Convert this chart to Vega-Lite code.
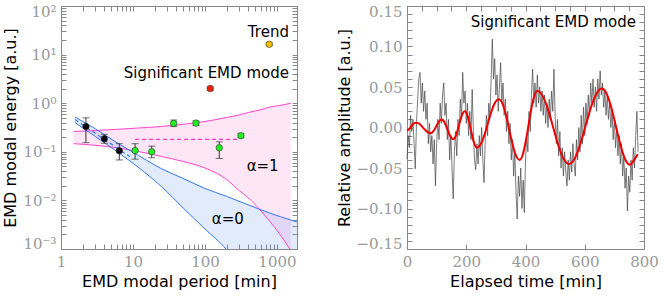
{
"$schema": "https://vega.github.io/schema/vega-lite/v6.json",
"padding": {"left": 2, "top": 3, "right": 0, "bottom": 2},
"spacing": 110,
"bounds": "flush",
"config": {
  "view": {"stroke": "#888888", "strokeWidth": 1},
  "axis": {"domain": false, "grid": false, "tickColor": "#888888", "tickSize": -5, "labelPadding": 10, "labelFont": "DejaVu Serif", "labelColor": "#999999", "labelFontSize": 15, "labelOverlap": false, "titleFont": "DejaVu Sans", "titleFontSize": 16, "titleFontWeight": "normal", "titleColor": "#000000"}
},
"datasets": {
  "pink": [
    {"P": 1.5, "up": 0.262, "lo": 0.147},
    {"P": 3, "up": 0.274, "lo": 0.136},
    {"P": 6, "up": 0.290, "lo": 0.121},
    {"P": 12, "up": 0.309, "lo": 0.101},
    {"P": 25, "up": 0.332, "lo": 0.080},
    {"P": 50, "up": 0.368, "lo": 0.063},
    {"P": 100, "up": 0.420, "lo": 0.0464},
    {"P": 200, "up": 0.508, "lo": 0.0269},
    {"P": 300, "up": 0.575, "lo": 0.0159},
    {"P": 400, "up": 0.644, "lo": 0.0113},
    {"P": 600, "up": 0.735, "lo": 0.00605},
    {"P": 800, "up": 0.836, "lo": 0.00368},
    {"P": 1100, "up": 0.90, "lo": 0.0020},
    {"P": 1560, "up": 0.995, "lo": 0.00093}
  ],
  "blue": [
    {"P": 1.56, "up": 0.52, "lo": 0.40},
    {"P": 3, "up": 0.297, "lo": 0.206},
    {"P": 6, "up": 0.153, "lo": 0.101},
    {"P": 12, "up": 0.0836, "lo": 0.0473},
    {"P": 25, "up": 0.0447, "lo": 0.0191},
    {"P": 50, "up": 0.0282, "lo": 0.00695},
    {"P": 100, "up": 0.0176, "lo": 0.00258},
    {"P": 200, "up": 0.0121, "lo": 0.00096},
    {"P": 400, "up": 0.0081, "lo": 0.0002},
    {"P": 800, "up": 0.00546, "lo": 0.00003},
    {"P": 1560, "up": 0.00395, "lo": 0.000003},
    {"P": 1900, "up": 0.0036, "lo": 0.000001}
  ],
  "pts": [
    {"P": 2.22, "E": 0.33, "lo": 0.154, "hi": 0.50, "cat": "b"},
    {"P": 4.0, "E": 0.186, "lo": 0.15, "hi": 0.229, "cat": "b"},
    {"P": 6.45, "E": 0.105, "lo": 0.068, "hi": 0.147, "cat": "b"},
    {"P": 10.7, "E": 0.106, "lo": 0.0705, "hi": 0.147, "cat": "g"},
    {"P": 18.2, "E": 0.10, "lo": 0.0755, "hi": 0.131, "cat": "g"},
    {"P": 36.8, "E": 0.385, "lo": 0.33, "hi": 0.45, "cat": "g"},
    {"P": 75, "E": 0.39, "lo": 0.35, "hi": 0.43, "cat": "g"},
    {"P": 158, "E": 0.121, "lo": 0.073, "hi": 0.16, "cat": "g"},
    {"P": 316, "E": 0.215, "lo": 0.195, "hi": 0.237, "cat": "g"},
    {"P": 118.5, "E": 2.0, "lo": 1.85, "hi": 2.15, "cat": "r"},
    {"P": 782, "E": 16.3, "lo": 15.2, "hi": 17.5, "cat": "y"}
  ],
  "ldash": [
    {"P": 10.7, "E": 0.181, "s": "pink"},
    {"P": 290, "E": 0.181, "s": "pink"},
    {"P": 1.56, "E": 0.46, "s": "blue"},
    {"P": 9, "E": 0.0797, "s": "blue"}
  ],
  "rtext": [
    {"P": 1468, "E": 29.6, "label": "Trend"},
    {"P": 1468, "E": 4.12, "label": "Significant EMD mode"}
  ],
  "ctext": [
    {"P": 633, "E": 0.051, "label": "α=1"},
    {"P": 208, "E": 0.00414, "label": "α=0"}
  ],
  "mode": [
    {"t": 0, "r": -0.004}, {"t": 10, "r": -0.001}, {"t": 20, "r": 0.004}, {"t": 30, "r": 0.006},
    {"t": 40, "r": 0.005}, {"t": 50, "r": 0.0015}, {"t": 60, "r": -0.0025}, {"t": 70, "r": -0.0058},
    {"t": 80, "r": -0.007}, {"t": 90, "r": -0.0041}, {"t": 100, "r": 0.0026}, {"t": 110, "r": 0.0085},
    {"t": 117, "r": 0.010}, {"t": 125, "r": 0.0076}, {"t": 135, "r": -0.0008}, {"t": 145, "r": -0.010},
    {"t": 156, "r": -0.0145}, {"t": 165, "r": -0.0102}, {"t": 175, "r": 0.0022}, {"t": 185, "r": 0.0147},
    {"t": 195, "r": 0.020}, {"t": 205, "r": 0.0137}, {"t": 215, "r": -0.0017}, {"t": 225, "r": -0.0175},
    {"t": 236, "r": -0.025}, {"t": 245, "r": -0.0228}, {"t": 255, "r": -0.0158}, {"t": 265, "r": -0.005},
    {"t": 275, "r": 0.0077}, {"t": 285, "r": 0.0196}, {"t": 295, "r": 0.0293}, {"t": 310, "r": 0.035},
    {"t": 320, "r": 0.0313}, {"t": 330, "r": 0.0209}, {"t": 340, "r": 0.0058}, {"t": 350, "r": -0.0108},
    {"t": 360, "r": -0.0259}, {"t": 370, "r": -0.0363}, {"t": 380, "r": -0.040}, {"t": 390, "r": -0.0343},
    {"t": 400, "r": -0.0188}, {"t": 410, "r": 0.0025}, {"t": 420, "r": 0.0238}, {"t": 430, "r": 0.0393},
    {"t": 440, "r": 0.045}, {"t": 450, "r": 0.0431}, {"t": 460, "r": 0.0375}, {"t": 470, "r": 0.0287},
    {"t": 480, "r": 0.0174}, {"t": 490, "r": 0.0047}, {"t": 500, "r": -0.0085}, {"t": 510, "r": -0.021},
    {"t": 520, "r": -0.0316}, {"t": 530, "r": -0.0395}, {"t": 540, "r": -0.0441}, {"t": 547, "r": -0.045},
    {"t": 557, "r": -0.0431}, {"t": 567, "r": -0.0377}, {"t": 577, "r": -0.0292}, {"t": 587, "r": -0.0183},
    {"t": 597, "r": -0.0057}, {"t": 607, "r": 0.0074}, {"t": 617, "r": 0.020}, {"t": 627, "r": 0.031},
    {"t": 637, "r": 0.0398}, {"t": 647, "r": 0.0458}, {"t": 658, "r": 0.048}, {"t": 668, "r": 0.0455},
    {"t": 678, "r": 0.0381}, {"t": 688, "r": 0.0267}, {"t": 698, "r": 0.0127}, {"t": 708, "r": -0.0029},
    {"t": 718, "r": -0.0177}, {"t": 728, "r": -0.0309}, {"t": 738, "r": -0.0404}, {"t": 753, "r": -0.046},
    {"t": 765, "r": -0.041}, {"t": 779, "r": -0.033}
  ],
  "ts": [
    {"t": 0, "v": -0.039}, {"t": 4, "v": -0.010}, {"t": 8, "v": -0.025}, {"t": 12, "v": 0.015},
    {"t": 16, "v": -0.005}, {"t": 20, "v": 0.010}, {"t": 24, "v": -0.020}, {"t": 28, "v": -0.051},
    {"t": 32, "v": 0.005}, {"t": 36, "v": 0.035}, {"t": 40, "v": 0.060}, {"t": 44, "v": 0.068},
    {"t": 48, "v": 0.030}, {"t": 52, "v": 0.055}, {"t": 56, "v": 0.020}, {"t": 60, "v": 0.045},
    {"t": 64, "v": 0.010}, {"t": 68, "v": 0.030}, {"t": 72, "v": -0.020}, {"t": 76, "v": 0.005},
    {"t": 80, "v": -0.030}, {"t": 84, "v": -0.010}, {"t": 88, "v": -0.045}, {"t": 92, "v": -0.015},
    {"t": 96, "v": -0.072}, {"t": 100, "v": -0.020}, {"t": 104, "v": 0.010}, {"t": 108, "v": -0.015},
    {"t": 112, "v": 0.030}, {"t": 116, "v": 0.005}, {"t": 120, "v": 0.040}, {"t": 124, "v": 0.055},
    {"t": 128, "v": 0.015}, {"t": 132, "v": 0.030}, {"t": 136, "v": -0.015}, {"t": 140, "v": 0.010},
    {"t": 144, "v": -0.040}, {"t": 148, "v": -0.010}, {"t": 152, "v": -0.050}, {"t": 156, "v": -0.088},
    {"t": 160, "v": -0.030}, {"t": 164, "v": -0.005}, {"t": 168, "v": -0.035}, {"t": 172, "v": 0.010},
    {"t": 176, "v": -0.010}, {"t": 180, "v": 0.035}, {"t": 184, "v": 0.010}, {"t": 188, "v": 0.068},
    {"t": 192, "v": 0.030}, {"t": 196, "v": 0.045}, {"t": 200, "v": 0.005}, {"t": 204, "v": 0.030},
    {"t": 208, "v": -0.010}, {"t": 212, "v": 0.020}, {"t": 216, "v": -0.015}, {"t": 220, "v": 0.047},
    {"t": 224, "v": -0.005}, {"t": 228, "v": -0.040}, {"t": 232, "v": -0.052}, {"t": 236, "v": -0.020},
    {"t": 240, "v": -0.045}, {"t": 244, "v": -0.010}, {"t": 248, "v": -0.035}, {"t": 252, "v": 0.000},
    {"t": 256, "v": -0.040}, {"t": 260, "v": -0.068}, {"t": 264, "v": -0.015}, {"t": 268, "v": 0.015},
    {"t": 272, "v": -0.010}, {"t": 276, "v": 0.030}, {"t": 280, "v": 0.015}, {"t": 284, "v": 0.060},
    {"t": 288, "v": 0.109}, {"t": 292, "v": 0.060}, {"t": 296, "v": 0.085}, {"t": 300, "v": 0.040},
    {"t": 304, "v": 0.065}, {"t": 308, "v": 0.020}, {"t": 312, "v": 0.050}, {"t": 316, "v": 0.080},
    {"t": 320, "v": 0.030}, {"t": 324, "v": 0.055}, {"t": 328, "v": 0.015}, {"t": 332, "v": 0.035},
    {"t": 336, "v": -0.005}, {"t": 340, "v": 0.020}, {"t": 344, "v": -0.020}, {"t": 348, "v": 0.005},
    {"t": 352, "v": -0.040}, {"t": 356, "v": -0.015}, {"t": 360, "v": -0.060}, {"t": 364, "v": -0.030},
    {"t": 368, "v": -0.080}, {"t": 372, "v": -0.113}, {"t": 376, "v": -0.060}, {"t": 380, "v": -0.085},
    {"t": 384, "v": -0.050}, {"t": 388, "v": -0.100}, {"t": 392, "v": -0.065}, {"t": 396, "v": -0.105},
    {"t": 400, "v": -0.040}, {"t": 404, "v": -0.010}, {"t": 408, "v": -0.030}, {"t": 412, "v": 0.020},
    {"t": 416, "v": -0.005}, {"t": 420, "v": 0.040}, {"t": 424, "v": 0.072}, {"t": 428, "v": 0.030},
    {"t": 432, "v": 0.055}, {"t": 436, "v": 0.025}, {"t": 440, "v": 0.065}, {"t": 444, "v": 0.030},
    {"t": 448, "v": 0.050}, {"t": 452, "v": 0.020}, {"t": 456, "v": 0.045}, {"t": 460, "v": 0.015},
    {"t": 464, "v": 0.040}, {"t": 468, "v": 0.005}, {"t": 472, "v": 0.030}, {"t": 476, "v": 0.000},
    {"t": 480, "v": 0.035}, {"t": 484, "v": 0.010}, {"t": 488, "v": 0.045}, {"t": 492, "v": 0.020},
    {"t": 496, "v": 0.072}, {"t": 500, "v": 0.015}, {"t": 504, "v": -0.020}, {"t": 508, "v": 0.010},
    {"t": 512, "v": -0.035}, {"t": 516, "v": -0.005}, {"t": 520, "v": -0.050}, {"t": 524, "v": -0.025},
    {"t": 528, "v": -0.060}, {"t": 532, "v": -0.030}, {"t": 536, "v": -0.055}, {"t": 540, "v": -0.072},
    {"t": 544, "v": -0.040}, {"t": 548, "v": -0.065}, {"t": 552, "v": -0.030}, {"t": 556, "v": -0.055},
    {"t": 560, "v": -0.020}, {"t": 564, "v": -0.045}, {"t": 568, "v": -0.060}, {"t": 572, "v": -0.015},
    {"t": 576, "v": -0.040}, {"t": 580, "v": 0.000}, {"t": 584, "v": -0.030}, {"t": 588, "v": 0.015},
    {"t": 592, "v": -0.020}, {"t": 596, "v": 0.025}, {"t": 600, "v": -0.010}, {"t": 604, "v": 0.030},
    {"t": 608, "v": 0.005}, {"t": 612, "v": 0.040}, {"t": 616, "v": 0.015}, {"t": 620, "v": 0.055},
    {"t": 624, "v": 0.030}, {"t": 628, "v": 0.060}, {"t": 632, "v": 0.025}, {"t": 636, "v": 0.050},
    {"t": 640, "v": 0.020}, {"t": 644, "v": 0.060}, {"t": 648, "v": 0.035}, {"t": 652, "v": 0.070},
    {"t": 656, "v": 0.040}, {"t": 660, "v": 0.055}, {"t": 664, "v": 0.025}, {"t": 668, "v": 0.045},
    {"t": 672, "v": 0.015}, {"t": 676, "v": 0.040}, {"t": 680, "v": 0.010}, {"t": 684, "v": 0.030},
    {"t": 688, "v": 0.000}, {"t": 692, "v": 0.020}, {"t": 696, "v": -0.015}, {"t": 700, "v": 0.010},
    {"t": 704, "v": -0.025}, {"t": 708, "v": 0.000}, {"t": 712, "v": -0.035}, {"t": 716, "v": -0.010},
    {"t": 720, "v": -0.045}, {"t": 724, "v": -0.020}, {"t": 728, "v": -0.060}, {"t": 732, "v": -0.035},
    {"t": 736, "v": -0.075}, {"t": 740, "v": -0.050}, {"t": 744, "v": -0.103}, {"t": 748, "v": -0.060},
    {"t": 752, "v": -0.080}, {"t": 756, "v": -0.040}, {"t": 760, "v": -0.065}, {"t": 764, "v": -0.025},
    {"t": 768, "v": -0.050}, {"t": 772, "v": -0.010}, {"t": 776, "v": 0.020}, {"t": 780, "v": -0.030}
  ]
},
"hconcat": [
  {
    "width": 236, "height": 243,
    "layer": [
      {
        "layer": [
          {
            "data": {"name": "pink"},
            "mark": {"type": "area", "color": "#ff55cc", "opacity": 0.15, "interpolate": "monotone", "clip": true},
            "encoding": {
              "x": {"field": "P", "type": "quantitative", "scale": {"type": "log", "domain": [1, 1900], "nice": false},
                "axis": {"title": "EMD modal period [min]", "labelOverlap": "greedy", "labelFlush": false, "values": [1,2,3,4,5,6,7,8,9,10,20,30,40,50,60,70,80,90,100,200,300,400,500,600,700,800,900,1000], "labelExpr": "datum.value==1||datum.value==10||datum.value==100||datum.value==1000 ? format(datum.value,'d') : ''"}},
              "y": {"field": "up", "type": "quantitative", "scale": {"type": "log", "domain": [0.001, 100], "nice": false},
                "axis": {"title": "EMD modal energy [a.u.]", "labelOverlap": "greedy", "values": [0.001,0.002,0.003,0.004,0.005,0.006,0.007,0.008,0.009,0.01,0.02,0.03,0.04,0.05,0.06,0.07,0.08,0.09,0.1,0.2,0.3,0.4,0.5,0.6,0.7,0.8,0.9,1,2,3,4,5,6,7,8,9,10,20,30,40,50,60,70,80,90,100], "labelFlush": true, "labelFlushOffset": 2, "labelExpr": "datum.value==100?'10²':datum.value==10?'10¹':datum.value==1?'10⁰':datum.value==0.1?'10⁻¹':datum.value==0.01?'10⁻²':datum.value==0.001?'10⁻³':''"}},
              "y2": {"field": "lo"}
            }
          },
          {
            "data": {"name": "blue"},
            "mark": {"type": "area", "color": "#5588ee", "opacity": 0.17, "interpolate": "monotone", "clip": true},
            "encoding": {
              "x": {"field": "P", "type": "quantitative"},
              "y": {"field": "up", "type": "quantitative"},
              "y2": {"field": "lo"}
            }
          },
          {
            "data": {"name": "pink"},
            "mark": {"type": "line", "color": "#ff44cc", "strokeWidth": 1, "interpolate": "monotone", "clip": true},
            "encoding": {"x": {"field": "P", "type": "quantitative"}, "y": {"field": "up", "type": "quantitative"}}
          },
          {
            "data": {"name": "pink"},
            "mark": {"type": "line", "color": "#ff44cc", "strokeWidth": 1, "interpolate": "monotone", "clip": true},
            "encoding": {"x": {"field": "P", "type": "quantitative"}, "y": {"field": "lo", "type": "quantitative"}}
          },
          {
            "data": {"name": "blue"},
            "mark": {"type": "line", "color": "#3377ee", "strokeWidth": 1, "interpolate": "monotone", "clip": true},
            "encoding": {"x": {"field": "P", "type": "quantitative"}, "y": {"field": "up", "type": "quantitative"}}
          },
          {
            "data": {"name": "blue"},
            "mark": {"type": "line", "color": "#3377ee", "strokeWidth": 1, "interpolate": "monotone", "clip": true},
            "encoding": {"x": {"field": "P", "type": "quantitative"}, "y": {"field": "lo", "type": "quantitative"}}
          },
          {
            "data": {"name": "ldash"},
            "mark": {"type": "line", "strokeWidth": 1.2, "strokeDash": [4, 3], "clip": true},
            "encoding": {
              "x": {"field": "P", "type": "quantitative"},
              "y": {"field": "E", "type": "quantitative"},
              "detail": {"field": "s"},
              "color": {"field": "s", "type": "nominal", "scale": {"domain": ["pink", "blue"], "range": ["#ff33cc", "#3377ee"]}, "legend": null}
            }
          },
          {
            "data": {"name": "pts"},
            "mark": {"type": "rule", "color": "#333333", "strokeWidth": 1},
            "encoding": {"x": {"field": "P", "type": "quantitative"}, "y": {"field": "lo", "type": "quantitative"}, "y2": {"field": "hi"}}
          },
          {
            "data": {"name": "pts"},
            "mark": {"type": "tick", "orient": "horizontal", "size": 7, "thickness": 1, "color": "#333333"},
            "encoding": {"x": {"field": "P", "type": "quantitative"}, "y": {"field": "lo", "type": "quantitative"}}
          },
          {
            "data": {"name": "pts"},
            "mark": {"type": "tick", "orient": "horizontal", "size": 7, "thickness": 1, "color": "#333333"},
            "encoding": {"x": {"field": "P", "type": "quantitative"}, "y": {"field": "hi", "type": "quantitative"}}
          },
          {
            "data": {"name": "pts"},
            "mark": {"type": "point", "filled": true, "size": 42, "opacity": 1, "stroke": "#333333", "strokeWidth": 0.6},
            "encoding": {
              "x": {"field": "P", "type": "quantitative"},
              "y": {"field": "E", "type": "quantitative"},
              "fill": {"field": "cat", "type": "nominal", "scale": {"domain": ["b", "g", "r", "y"], "range": ["#000000", "#22ee22", "#ee2200", "#f5c000"]}, "legend": null}
            }
          },
          {
            "data": {"name": "rtext"},
            "mark": {"type": "text", "font": "DejaVu Sans", "fontSize": 15, "align": "right", "baseline": "middle", "color": "#000000"},
            "encoding": {
              "x": {"field": "P", "type": "quantitative"},
              "y": {"field": "E", "type": "quantitative"},
              "text": {"field": "label"}
            }
          },
          {
            "data": {"name": "ctext"},
            "mark": {"type": "text", "font": "DejaVu Sans", "fontSize": 15, "align": "center", "baseline": "middle", "color": "#000000"},
            "encoding": {
              "x": {"field": "P", "type": "quantitative"},
              "y": {"field": "E", "type": "quantitative"},
              "text": {"field": "label"}
            }
          }
        ]
      },
      {
        "data": {"name": "pink"},
        "mark": {"type": "point", "opacity": 0},
        "encoding": {
          "x": {"field": "P", "type": "quantitative", "axis": {"orient": "top", "title": null, "labels": false, "minExtent": 0, "values": [1,2,3,4,5,6,7,8,9,10,20,30,40,50,60,70,80,90,100,200,300,400,500,600,700,800,900,1000]}},
          "y": {"field": "up", "type": "quantitative", "axis": {"orient": "right", "title": null, "labels": false, "minExtent": 0, "values": [0.001,0.002,0.003,0.004,0.005,0.006,0.007,0.008,0.009,0.01,0.02,0.03,0.04,0.05,0.06,0.07,0.08,0.09,0.1,0.2,0.3,0.4,0.5,0.6,0.7,0.8,0.9,1,2,3,4,5,6,7,8,9,10,20,30,40,50,60,70,80,90,100]}}
        }
      }
    ],
    "resolve": {"axis": {"x": "independent", "y": "independent"}}
  },
  {
    "width": 237, "height": 243,
    "layer": [
      {
        "layer": [
          {
            "data": {"name": "ts"},
            "mark": {"type": "line", "color": "#444444", "strokeWidth": 0.7},
            "encoding": {
              "x": {"field": "t", "type": "quantitative", "scale": {"domain": [0, 800], "nice": false, "zero": false},
                "axis": {"title": "Elapsed time [min]", "labelOverlap": "greedy", "labelFlush": false, "values": [0,50,100,150,200,250,300,350,400,450,500,550,600,650,700,750,800], "labelExpr": "datum.value % 200 == 0 ? format(datum.value,'d') : ''"}},
              "y": {"field": "v", "type": "quantitative", "scale": {"domain": [-0.15, 0.15], "nice": false, "zero": false},
                "axis": {"title": "Relative amplitude [a.u.]", "labelFlush": true, "labelFlushOffset": 2, "values": [-0.15,-0.1,-0.05,0,0.05,0.1,0.15], "labelExpr": "format(datum.value,'.2f')"}}
            }
          },
          {
            "data": {"name": "mode"},
            "mark": {"type": "line", "color": "#ee0000", "strokeWidth": 2, "interpolate": "monotone"},
            "encoding": {"x": {"field": "t", "type": "quantitative"}, "y": {"field": "r", "type": "quantitative"}}
          },
          {
            "data": {"values": [{"t": 773, "v": 0.1306, "label": "Significant EMD mode"}]},
            "mark": {"type": "text", "font": "DejaVu Sans", "fontSize": 15, "align": "right", "baseline": "middle", "color": "#000000"},
            "encoding": {"x": {"field": "t", "type": "quantitative"}, "y": {"field": "v", "type": "quantitative"}, "text": {"field": "label"}}
          }
        ]
      },
      {
        "data": {"name": "mode"},
        "mark": {"type": "point", "opacity": 0},
        "encoding": {
          "x": {"field": "t", "type": "quantitative", "axis": {"orient": "top", "title": null, "labels": false, "minExtent": 0, "values": [0,50,100,150,200,250,300,350,400,450,500,550,600,650,700,750,800]}},
          "y": {"field": "r", "type": "quantitative", "axis": {"orient": "right", "title": null, "labels": false, "minExtent": 0, "values": [-0.15,-0.14,-0.13,-0.12,-0.11,-0.1,-0.09,-0.08,-0.07,-0.06,-0.05,-0.04,-0.03,-0.02,-0.01,0,0.01,0.02,0.03,0.04,0.05,0.06,0.07,0.08,0.09,0.1,0.11,0.12,0.13,0.14,0.15]}}
        }
      },
      {
        "data": {"name": "mode"},
        "mark": {"type": "point", "opacity": 0},
        "encoding": {
          "x": {"field": "t", "type": "quantitative", "axis": null},
          "y": {"field": "r", "type": "quantitative", "axis": {"orient": "left", "title": null, "labels": false, "minExtent": 0, "values": [-0.15,-0.14,-0.13,-0.12,-0.11,-0.1,-0.09,-0.08,-0.07,-0.06,-0.05,-0.04,-0.03,-0.02,-0.01,0,0.01,0.02,0.03,0.04,0.05,0.06,0.07,0.08,0.09,0.1,0.11,0.12,0.13,0.14,0.15]}}
        }
      }
    ],
    "resolve": {"axis": {"x": "independent", "y": "independent"}}
  }
]
}
